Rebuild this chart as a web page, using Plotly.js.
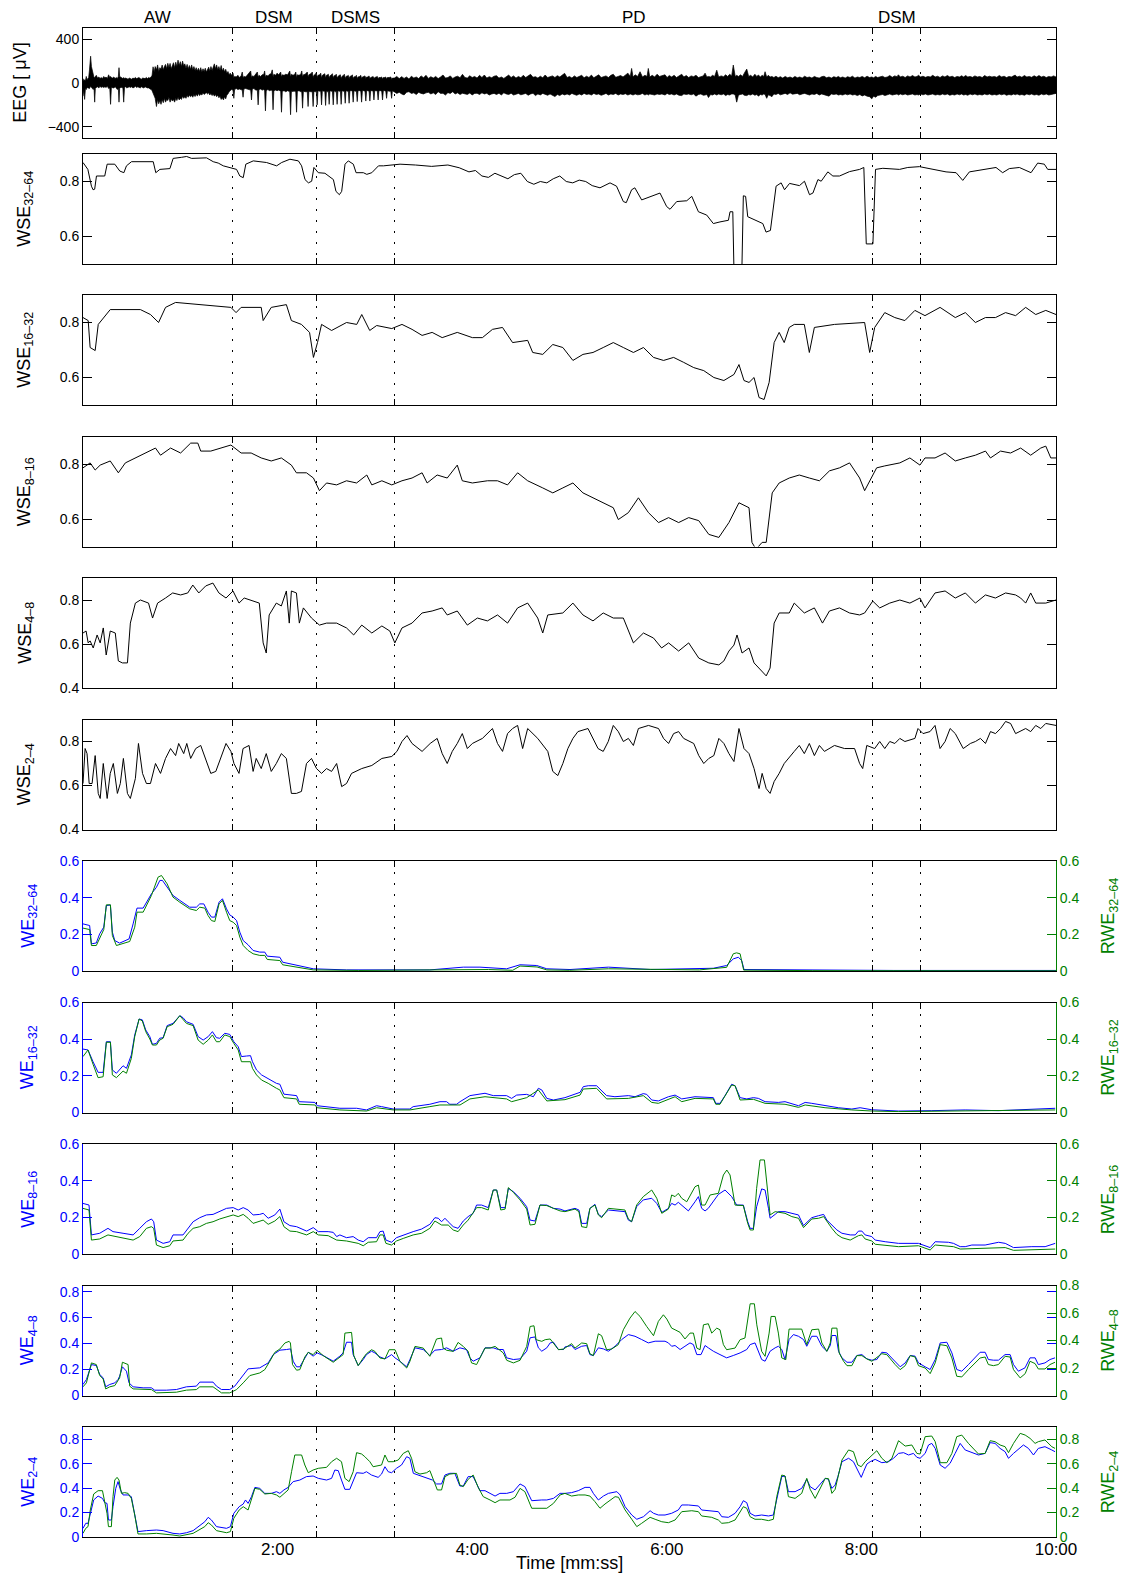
<!DOCTYPE html>
<html>
<head>
<meta charset="utf-8">
<script src="https://cdn.plot.ly/plotly-3.0.1.min.js"></script>
<style>html,body{margin:0;padding:0;background:#fff;}</style>
</head>
<body>
<div id="chart" style="width:1125px;height:1576px;"></div>
<script>
// ---------------- sleep-stage segmentation and time axis ----------------
const stageBounds = [0, 91.9, 144, 192.3, 486.8, 516.7, 600];   // seconds
const stageLabels = ['AW', 'DSM', 'DSMS', 'PD', 'DSM', ''];
const timeTickVals = [120, 240, 360, 480, 600];
const timeTickText = ['2:00', '4:00', '6:00', '8:00', '10:00'];

// ---------------- raw EEG, shown as a max/min envelope per short time bin [t, max, min] (µV) ----------------
const eegEnvelope = [
 [0,40,-120],[0.5,20,-60],[1,30,-150],[1.5,20,-50],[2,60,-60],[2.5,30,-40],[3,40,-40],[3.5,50,-45],[4,120,-50],[4.7,245,-30],
 [5.2,150,-40],[5.8,100,-50],[6.3,80,-60],[6.8,50,-45],[7.2,50,-175],[7.6,60,-50],[8.2,70,-40],[9,45,-35],[9.8,55,-45],[10.5,40,-30],
 [11.2,50,-40],[12,40,-35],[12.8,60,-40],[13.5,45,-35],[14.2,55,-40],[15,40,-30],[15.8,75,-50],[16.5,50,-45],[17,60,-195],[17.5,50,-40],
 [18.2,45,-40],[19,55,-45],[19.8,40,-35],[20.5,50,-45],[21.2,40,-60],[21.8,60,-50],[22.2,140,-175],[22.6,60,-50],[23.3,50,-40],[24,45,-40],
 [24.6,40,-45],[25.1,50,-175],[25.6,40,-40],[26.3,45,-35],[27,40,-45],[27.8,35,-40],[28.5,45,-35],[29.3,40,-40],[30,35,-35],[30.8,45,-45],
 [31.5,40,-40],[32.3,50,-30],[33,40,-40],[33.8,45,-35],[34.5,50,-40],[35.3,40,-45],[36,35,-35],[36.8,45,-40],[37.5,45,-45],[38.3,40,-35],
 [39,50,-40],[39.8,40,-45],[40.5,50,-45],[41.2,45,-50],[42,55,-60],[42.6,70,-70],
 [43.2,148,-80],[43.9,100,-120],[44.5,150,-140],[45.3,120,-215],[46,165,-150],[46.7,105,-190],[47.4,140,-160],[48.1,125,-195],[48.8,164,-150],
 [49.5,120,-180],[50.2,150,-140],[50.9,170,-175],[51.6,130,-150],[52.3,180,-160],[53,140,-130],[53.7,179,-175],[54.4,130,-145],[55.1,160,-165],
 [55.8,185,-150],[56.5,140,-175],[57.2,190,-140],[57.9,150,-160],[58.6,209,-130],[59.3,160,-155],[60,195,-140],[60.7,150,-150],[61.4,200,-120],
 [62.1,155,-140],[62.8,175,-125],[63.5,135,-140],[64.2,170,-115],[64.9,130,-130],[65.6,160,-110],[66.3,125,-125],[67,165,-115],[67.7,120,-130],
 [68.4,150,-105],[69.1,115,-124],[69.8,140,-100],[70.5,110,-120],[71.2,135,-95],[71.9,105,-115],[72.6,140,-100],[73.3,100,-110],[74,130,-90],
 [74.7,105,-105],[75.4,135,-95],[76.1,100,-90],[76.8,120,-100],[77.5,145,-90],[78.2,110,-110],[78.9,150,-95],[79.6,115,-115],[80.3,140,-100],
 [81,175,-120],[81.7,130,-105],[82.4,165,-125],[83.1,120,-110],[83.8,150,-135],[84.5,115,-120],[85.2,160,-150],[85.9,110,-135],[86.6,135,-155],
 [87.3,100,-125],[88,125,-145],[88.7,90,-110],[89.4,105,-100],[90.1,75,-80],[90.8,90,-70],
 [91.5,70,-60],[92.5,90,-65],[93,50,-140],[93.5,60,-60],[94.5,55,-50],[95.5,70,-60],[96.5,50,-55],[97.5,65,-60],[98.2,100,-65],[98.7,50,-130],
 [99.2,60,-55],[100.2,55,-50],[101.2,70,-60],[102.2,90,-60],[103.4,110,-65],[103.9,50,-155],[104.4,65,-55],[105.4,60,-50],[106.4,75,-65],
 [107.5,100,-65],[108,50,-200],[108.5,70,-60],[109.5,60,-55],[110.5,75,-65],[111.5,80,-60],[112,110,-70],[112.5,50,-255],[113,70,-70],
 [114,65,-60],[115,80,-70],[116,85,-65],[116.7,120,-70],[117.2,55,-245],[117.7,80,-70],[118.7,70,-65],[119.7,90,-70],[120.7,75,-65],
 [121.9,100,-75],[122.4,55,-267],[122.9,75,-75],[124,70,-70],[125,80,-80],[126.2,75,-70],[127.5,110,-80],[128,55,-290],[128.5,80,-80],
 [129.5,70,-75],[130.6,80,-75],[131.2,100,-80],[131.7,50,-267],[132.2,75,-75],[133.2,70,-70],[134.3,80,-80],[134.9,110,-80],[135.4,55,-230],
 [135.9,75,-75],[137,80,-80],[138.3,100,-80],[138.8,55,-215],[139.3,75,-75],[140.5,85,-80],[141.4,100,-80],[141.9,50,-215],[142.4,70,-75],
 [143.3,80,-80],[143.9,95,-75],[144.4,50,-200],[144.9,70,-70],[146,75,-75],[146.6,90,-75],[147.1,45,-200],[147.6,70,-70],[148.5,80,-75],
 [149.1,85,-75],[149.6,45,-205],[150.1,70,-75],[150.8,75,-80],[151.3,80,-75],[151.8,45,-195],[152.3,65,-70],[153.2,75,-75],[153.8,85,-75],
 [154.3,45,-200],[154.8,65,-70],[155.6,70,-80],[156.2,80,-75],[156.7,45,-195],[157.2,60,-70],[158.1,70,-75],[158.7,75,-75],[159.2,40,-195],
 [159.7,60,-70],[160.6,70,-75],[161.2,80,-75],[161.7,40,-185],[162.2,60,-70],[163.1,65,-75],[163.6,70,-75],[164.1,40,-185],[164.6,60,-70],
 [165.5,65,-70],[166.1,75,-75],[166.6,40,-175],[167.1,55,-70],[168,60,-75],[168.6,70,-75],[169.1,40,-170],[169.6,55,-70],[170.6,60,-70],
 [171.3,70,-75],[171.8,40,-175],[172.3,55,-70],[173.2,60,-70],[173.9,65,-75],[174.4,40,-165],[174.9,55,-70],[175.7,55,-70],[176.4,65,-75],
 [176.9,40,-165],[177.4,50,-70],[178.3,55,-70],[178.9,60,-75],[179.4,40,-155],[179.9,50,-70],[180.8,55,-70],[181.5,60,-75],[182,40,-155],
 [182.5,50,-70],[183.4,50,-70],[184.2,55,-75],[184.7,35,-155],[185.2,50,-70],[186.1,50,-70],[186.7,55,-75],[187.2,35,-140],[187.7,50,-70],
 [188.8,50,-75],[189.8,55,-75],[190.3,35,-140],[190.8,45,-70],[191.6,45,-75],
 [192,45,-80],[193.5,60,-95],[195,40,-85],[196.5,58,-100],[198,42,-109],[199.5,55,-85],[201,36,-79],[202.5,62,-95],[204,45,-90],[205.5,55,-105],
 [207,40,-85],[208.5,65,-95],[210,48,-100],[211.5,70,-90],[213,42,-85],[214.5,58,-100],[216,45,-90],[217.5,60,-105],[219,40,-79],[220.5,55,-95],
 [222,73,-94],[223.5,45,-110],[225,50,-88],[226.5,65,-95],[228,42,-79],[229.5,55,-100],[231,62,-90],[232.5,48,-105],[234,79,-94],[235.5,50,-100],
 [237,45,-104],[238.5,66,-92],[240,50,-109],[241.5,60,-95],[243,45,-94],[244.5,70,-105],[246,50,-90],[247.5,73,-100],[249,45,-94],[250.5,58,-110],
 [252,48,-100],[253.5,62,-95],[255,67,-105],[256.5,45,-94],[258,55,-109],[259.5,42,-90],[261,58,-100],[262.5,72,-105],[264,50,-94],[265.5,65,-110],
 [267,45,-103],[268.5,60,-95],[270,48,-108],[271.5,70,-100],[273,50,-95],[274.5,62,-112],[276,79,-100],[277.5,52,-94],[279,58,-115],[280.5,45,-100],
 [282,62,-109],[283.5,48,-95],[285,73,-105],[286.5,50,-112],[288,58,-100],[289.5,65,-110],[291,50,-124],[292.5,67,-105],[294,55,-115],[295.5,70,-100],
 [297,88,-109],[298.5,50,-100],[300,60,-110],[301.5,45,-95],[303,65,-105],[304.5,50,-112],[306,58,-100],[307.5,70,-110],[309,48,-95],[310.5,62,-105],
 [312,50,-100],[313.5,72,-110],[315,48,-95],[316.5,60,-105],[318,75,-100],[319.5,50,-112],[321,58,-105],[322.5,65,-95],[324,50,-110],[325.5,70,-100],
 [327,80,-105],[328.5,52,-95],[330,60,-110],[331.5,68,-100],[333,55,-105],[334.5,75,-98],[336,90,-110],[337.5,60,-100],[338.3,133,-105],[339.2,55,-110],
 [340.5,75,-100],[342,60,-108],[343.5,103,-105],[345,55,-95],[346.5,70,-110],[347.8,60,-100],[348.6,133,-110],[349.5,55,-100],[351,70,-105],[352.5,55,-110],
 [354,80,-100],[355.5,60,-105],[357,65,-100],[358.9,75,-110],[360.2,50,-95],[361.5,68,-105],[363,55,-100],[364.5,70,-110],[366,50,-100],[367.5,62,-112],
 [369.2,80,-115],[370.5,55,-100],[372,68,-105],[373.5,50,-100],[375,65,-108],[376.5,58,-100],[378,70,-120],[379.5,50,-105],[381,60,-100],[382.5,65,-112],
 [383.6,90,-110],[384.7,55,-105],[385.7,60,-133],[387,55,-105],[388.2,70,-110],[389.5,60,-100],[390.8,117,-110],[392,55,-100],[393.5,65,-108],[395,58,-100],
 [396.3,75,-115],[397.5,60,-105],[398.8,80,-110],[400,65,-100],[401,164,-100],[402.2,60,-110],[403.1,70,-175],[404.2,60,-110],[405.5,75,-105],[406.7,60,-100],
 [407.8,90,-112],[409.3,127,-115],[410.5,60,-105],[411.7,70,-110],[413,55,-100],[414.3,80,-112],[415.5,60,-105],[416.5,73,-120],[417.7,55,-105],[418.8,70,-110],
 [419.8,60,-100],[420.6,103,-105],[421.6,55,-140],[422.6,70,-108],[423.7,55,-115],[424.8,60,-125],[426,50,-100],[427.3,62,-105],[428.7,48,-95],[430,58,-108],
 [431.5,45,-100],[433,60,-95],[434.5,48,-105],[436,55,-90],[437.5,45,-102],[439,60,-100],[440.5,48,-95],[442,55,-108],[443.5,45,-100],[445,62,-95],
 [446.5,50,-105],[448,55,-110],[449.5,45,-100],[451,60,-105],[452.5,50,-95],[454,45,-110],[455.5,58,-100],[457,62,-105],[458.5,48,-112],[460,55,-120],
 [461.5,45,-100],[463,58,-105],[464.5,50,-100],[465.8,60,-110],[467,48,-105],[468.5,55,-110],[470,45,-100],[471.5,58,-108],[473,50,-100],[474.5,62,-110],
 [476,45,-105],[477.5,55,-115],[479,50,-105],[480.5,60,-118],[482,48,-110],[483.5,62,-120],[485,50,-125],[486.4,55,-145],[487.5,48,-120],[488.8,60,-130],
 [490,50,-115],[491.5,58,-110],[493,62,-105],[494.5,50,-115],[496,55,-110],[497.5,68,-100],[499,52,-110],[500.5,65,-105],[502,58,-100],[502.8,75,-110],
 [504,55,-100],[505.5,62,-108],[507,50,-100],[508.5,65,-110],[510,55,-105],[511.5,68,-100],[513,55,-110],[514.3,60,-105],[515.2,70,-110],[516.5,55,-100],
 [518,62,-108],[519.5,52,-100],[521,60,-110],[522.5,55,-105],[524,70,-100],[525.5,55,-110],[527,62,-105],[528.5,50,-110],[530,65,-100],[531.5,55,-108],
 [533,68,-100],[534.5,55,-112],[536,62,-105],[537.5,50,-110],[539,60,-100],[540.5,55,-108],[541.8,66,-100],[543,55,-110],[544.3,68,-105],[545.6,55,-112],
 [547,60,-100],[548.5,52,-108],[550,65,-100],[551.5,55,-110],[553,60,-105],[554.5,50,-110],[556,68,-100],[557.5,55,-108],[559,62,-100],[560.5,55,-110],
 [562,60,-105],[563.5,52,-110],[565,68,-100],[566.5,55,-108],[568,62,-100],[569.5,50,-112],[571,60,-105],[572.5,55,-110],[574,62,-100],[574.8,72,-108],
 [576,55,-100],[577.5,62,-110],[579,52,-105],[580.5,68,-112],[582,55,-100],[583.5,60,-108],[585,52,-100],[586.5,66,-110],[588,55,-105],[589.5,68,-112],
 [591,55,-100],[592.5,62,-108],[594,50,-100],[595.5,60,-110],[597,55,-105],[598.5,65,-100],[600,55,-95]
];

// ---------------- wavelet spectral entropy per band [t, value] ----------------
const wse3264 = [
 [0,0.869],[3,0.844],[5.2,0.783],[6.2,0.770],[7.2,0.772],[8.3,0.820],[13.4,0.820],[14.9,0.863],[19.6,0.863],[22.7,0.838],
 [25.2,0.832],[26.8,0.857],[29.9,0.872],[43.3,0.872],[44.9,0.832],[47.4,0.844],[53.6,0.847],[55.6,0.884],[60.8,0.888],[63.9,0.891],
 [67,0.884],[76.2,0.886],[80.3,0.872],[83.4,0.867],[86.5,0.857],[90.6,0.851],[94.7,0.844],[96.7,0.820],[98.8,0.814],[100.4,0.863],
 [105,0.875],[113.2,0.869],[119.4,0.857],[122.5,0.869],[127.6,0.881],[132.8,0.875],[134.8,0.857],[136.9,0.807],[139,0.795],[141,0.801],
 [142.4,0.851],[145.1,0.832],[149.2,0.830],[154.4,0.807],[156,0.764],[158.1,0.752],[159.5,0.764],[161.6,0.863],[163.6,0.875],[166.7,0.863],
 [168.4,0.832],[172.9,0.832],[175,0.826],[178.1,0.832],[182.2,0.857],[185.3,0.857],[195.5,0.863],[205,0.860],[215,0.855],[225,0.860],
 [232,0.850],[238,0.835],[242,0.840],[246,0.820],[250,0.815],[254,0.830],[258,0.820],[262,0.810],[266,0.825],[270,0.830],[274,0.800],
 [278,0.790],[282,0.800],[286,0.795],[290,0.810],[294,0.820],[298,0.800],[302,0.795],[306,0.805],[310,0.800],[314,0.785],
 [318.8,0.777],[325,0.795],[329,0.783],[333.2,0.727],[335,0.723],[338.3,0.770],[340.3,0.777],[344.5,0.733],[349.6,0.743],[355.8,0.758],
 [359.9,0.709],[362,0.699],[366.1,0.727],[372.3,0.730],[375.4,0.746],[379.5,0.690],[384.6,0.678],[388.7,0.647],[392.8,0.653],[398,0.659],
 [399,0.690],[400.7,0.690],[401.5,0.45],[406.2,0.45],[407.2,0.748],[408.6,0.746],[409.9,0.672],[415,0.657],[419.2,0.647],[421.2,0.616],
 [423.9,0.622],[427.4,0.783],[430.5,0.795],[432.6,0.770],[435.7,0.793],[441.8,0.785],[444.9,0.801],[448,0.752],[450.1,0.758],[453.2,0.807],
 [455.2,0.801],[459.3,0.835],[462.4,0.820],[466.5,0.820],[472.7,0.836],[478.9,0.844],[481.5,0.851],[483,0.573],[487.1,0.573],[488.7,0.844],
 [493.2,0.848],[503.5,0.844],[508.6,0.851],[515.8,0.854],[524,0.844],[532.2,0.835],[538.4,0.832],[542.5,0.804],[546.6,0.835],[554.8,0.844],
 [563,0.851],[567.1,0.832],[571.2,0.847],[577.4,0.851],[584.6,0.832],[588.7,0.867],[592.8,0.863],[594.9,0.844],[600,0.844]
];
const wse1632 = [
 [0,0.818],[3.2,0.807],[4.4,0.709],[7.5,0.698],[9.4,0.793],[16.8,0.847],[35.4,0.847],[41.6,0.829],[46.6,0.8],[50.9,0.855],
 [57.1,0.873],[91.2,0.855],[94.4,0.836],[97.5,0.855],[109.9,0.855],[111.1,0.807],[116.1,0.855],[125.4,0.865],[128.5,0.807],[134.7,0.793],
 [139.7,0.764],[142.1,0.673],[144.6,0.727],[147.1,0.793],[153.3,0.771],[162.5,0.8],[168.8,0.793],[171.9,0.829],[176.8,0.771],[181.1,0.789],
 [190.4,0.778],[196.7,0.793],[202.9,0.775],[209.1,0.753],[215.3,0.764],[221.5,0.745],[230.8,0.764],[240.1,0.745],[246.3,0.745],[252.5,0.775],
 [258.7,0.782],[264.9,0.727],[274.2,0.735],[277.3,0.691],[283.5,0.684],[289.7,0.72],[295.9,0.709],[302.1,0.662],[308.3,0.684],[314.5,0.691],
 [320.8,0.709],[327,0.727],[333.2,0.709],[339.4,0.691],[345.6,0.709],[351.8,0.673],[358,0.662],[364.2,0.673],[370.4,0.655],[376.6,0.636],
 [382.8,0.625],[389,0.6],[395.2,0.589],[401.4,0.611],[404.5,0.647],[407.6,0.589],[410.7,0.582],[413.8,0.6],[416.9,0.527],[420,0.52],
 [423.1,0.582],[426.2,0.727],[429.3,0.764],[432.4,0.727],[435.5,0.782],[438.6,0.793],[444.8,0.793],[447.9,0.691],[451,0.782],[463.4,0.793],
 [482,0.8],[485.1,0.691],[488.2,0.782],[494.4,0.836],[500.6,0.818],[506.8,0.807],[513,0.844],[519.2,0.825],[528.5,0.855],[537.9,0.818],
 [544.1,0.836],[550.3,0.8],[556.5,0.818],[562.7,0.818],[568.9,0.836],[575.1,0.825],[581.3,0.855],[587.5,0.829],[593.7,0.844],[600,0.829]
];
const wse816 = [
 [0,0.786],[4.4,0.804],[7.5,0.778],[10.6,0.796],[16.8,0.811],[21.8,0.768],[26.1,0.804],[32.3,0.822],[38.5,0.84],[44.7,0.858],
 [47.8,0.832],[54,0.858],[60.2,0.84],[66.4,0.876],[70.8,0.876],[72.6,0.847],[78.8,0.847],[85,0.858],[91.2,0.869],[97.5,0.84],
 [103.7,0.84],[109.9,0.822],[116.1,0.811],[122.3,0.822],[128.5,0.796],[131.6,0.768],[137.8,0.768],[142.1,0.749],[145.8,0.703],[150.2,0.731],
 [156.4,0.724],[162.5,0.739],[168.7,0.731],[175,0.76],[178.1,0.724],[184.3,0.739],[190.4,0.724],[196.7,0.739],[202.9,0.749],[209.1,0.768],
 [212.2,0.731],[218.4,0.76],[224.6,0.749],[230.8,0.796],[233.9,0.739],[240.1,0.731],[249.4,0.739],[255.6,0.739],[261.8,0.724],[268,0.768],
 [274.2,0.739],[283.5,0.713],[289.7,0.695],[295.9,0.713],[302.1,0.731],[308.3,0.695],[314.5,0.677],[320.8,0.659],[327,0.641],[330.1,0.598],
 [336.3,0.623],[342.5,0.677],[348.7,0.623],[354.9,0.587],[361.1,0.605],[367.3,0.587],[373.5,0.605],[379.7,0.594],[385.9,0.544],[392.1,0.533],
 [398.3,0.587],[404.5,0.659],[410.7,0.641],[412.5,0.515],[415,0.49],[418.8,0.515],[421.3,0.515],[425,0.695],[429.3,0.731],[435.5,0.749],
 [441.7,0.76],[447.9,0.749],[454.1,0.739],[460.3,0.775],[466.5,0.786],[472.7,0.804],[478.9,0.749],[482,0.703],[485.1,0.739],[489.4,0.786],
 [494.4,0.793],[503.7,0.804],[509.9,0.822],[516.1,0.796],[519.2,0.822],[525.4,0.822],[531.6,0.84],[537.9,0.811],[544.1,0.822],[550.3,0.832],
 [556.5,0.847],[559.6,0.822],[565.8,0.847],[572,0.84],[578.2,0.858],[584.4,0.832],[590.6,0.858],[593.7,0.865],[596.8,0.822],[600,0.822]
];
const wse48 = [
 [0,0.65],[1.9,0.659],[3.2,0.605],[4.4,0.614],[6.3,0.582],[8.7,0.641],[10.6,0.605],[12.5,0.673],[14.3,0.55],[16.8,0.659],
 [19.9,0.65],[21.8,0.523],[24.3,0.514],[27.4,0.514],[29.2,0.695],[32.3,0.786],[35.4,0.8],[40.4,0.786],[42.9,0.718],[46,0.786],
 [50.9,0.809],[55.3,0.832],[60.2,0.823],[64.6,0.832],[67.7,0.868],[71.4,0.832],[75.7,0.864],[80.1,0.877],[83.8,0.832],[88.2,0.809],
 [92.5,0.841],[96.2,0.786],[99.4,0.809],[103.7,0.8],[108.7,0.786],[111.1,0.605],[113,0.559],[114.8,0.732],[119.2,0.786],[122.3,0.773],
 [125.4,0.841],[127.2,0.695],[128.5,0.841],[131.6,0.832],[133.4,0.695],[135.9,0.764],[140.9,0.718],[145.8,0.686],[150.2,0.695],[156.4,0.695],
 [162.5,0.673],[166.9,0.641],[171.9,0.686],[178.1,0.65],[184.3,0.682],[189.2,0.659],[192.3,0.605],[196.7,0.673],[202.9,0.695],[209.1,0.741],
 [215.3,0.75],[221.5,0.764],[224.6,0.732],[230.8,0.75],[237,0.686],[243.2,0.718],[249.4,0.705],[255.6,0.732],[261.8,0.695],[268,0.764],
 [274.2,0.786],[280.4,0.718],[283.5,0.65],[286.6,0.732],[295.9,0.741],[302.1,0.786],[308.3,0.732],[314.5,0.705],[320.8,0.741],[327,0.718],
 [333.2,0.718],[339.4,0.605],[345.6,0.65],[351.8,0.627],[356.8,0.582],[361.1,0.605],[367.3,0.568],[373.5,0.605],[379.7,0.536],[385.9,0.514],
 [392.1,0.505],[395.2,0.523],[398.3,0.568],[401.4,0.595],[403.3,0.641],[406.4,0.559],[410.7,0.582],[413.8,0.514],[418.8,0.477],[421.3,0.455],
 [423.7,0.491],[426.2,0.695],[429.3,0.741],[435.5,0.741],[438.6,0.786],[441.7,0.764],[444.8,0.741],[451,0.764],[456,0.695],[460.3,0.75],
 [466.5,0.764],[472.7,0.741],[478.9,0.732],[482,0.741],[487,0.795],[491.3,0.764],[497.5,0.786],[503.7,0.8],[509.9,0.786],[516.1,0.809],
 [519.2,0.764],[525.4,0.832],[531.6,0.841],[537.9,0.809],[544.1,0.832],[550.3,0.786],[556.5,0.823],[562.7,0.809],[568.9,0.832],[575.1,0.823],
 [578.2,0.809],[581.3,0.786],[584.4,0.832],[587.5,0.786],[593.7,0.786],[600,0.8]
];
const wse24 = [
 [0,0.609],[1.3,0.768],[2.5,0.745],[3.8,0.609],[5.6,0.609],[7.5,0.736],[9.4,0.564],[10.6,0.541],[12.5,0.7],[14.9,0.541],
 [16.8,0.655],[18.7,0.7],[21.2,0.564],[23,0.609],[24.9,0.723],[27.4,0.564],[29.2,0.541],[32.3,0.632],[34.2,0.791],[36.7,0.655],
 [39.1,0.609],[41.6,0.609],[44.7,0.7],[47.8,0.655],[50.9,0.723],[54,0.768],[57.1,0.736],[59,0.791],[62.1,0.745],[64,0.791],
 [66.4,0.723],[69.5,0.768],[72.6,0.782],[75.7,0.723],[78.8,0.655],[81.9,0.664],[85,0.723],[88.2,0.791],[91.2,0.755],[93.1,0.7],
 [96.2,0.655],[98.7,0.768],[102.4,0.782],[104.9,0.664],[106.8,0.723],[109.9,0.677],[113,0.745],[116.1,0.664],[119.2,0.7],[122.3,0.745],
 [125.4,0.723],[128.5,0.564],[131.6,0.564],[134.7,0.573],[137.8,0.7],[140.9,0.723],[144,0.677],[147.1,0.655],[150.2,0.677],[153.3,0.664],
 [156.4,0.7],[159.5,0.595],[162.5,0.609],[165.6,0.655],[171.9,0.677],[178.1,0.691],[184.3,0.723],[190.4,0.732],[193.6,0.755],[196.7,0.8],
 [199.8,0.827],[202.9,0.791],[209.1,0.755],[214.1,0.791],[218.4,0.814],[221.5,0.745],[224.6,0.7],[227.7,0.755],[230.8,0.791],[233.9,0.836],
 [237,0.768],[240.1,0.791],[246.3,0.814],[252.5,0.859],[255.6,0.791],[258.7,0.755],[261.8,0.836],[264.9,0.859],[268,0.873],[271.1,0.768],
 [274.2,0.859],[280.4,0.814],[286.6,0.755],[289.7,0.664],[292.8,0.645],[295.9,0.7],[299,0.768],[302.1,0.814],[305.2,0.845],[311.4,0.859],
 [317.6,0.768],[320.8,0.755],[323.9,0.8],[327,0.873],[330.1,0.845],[333.2,0.8],[336.3,0.814],[339.4,0.782],[342.5,0.859],[348.7,0.873],
 [354.9,0.859],[358,0.814],[361.1,0.791],[364.2,0.836],[367.3,0.845],[370.4,0.814],[376.6,0.791],[379.7,0.736],[382.8,0.7],[385.9,0.723],
 [389,0.736],[392.1,0.814],[395.2,0.791],[398.3,0.745],[401.4,0.709],[404.5,0.859],[407.6,0.768],[410.7,0.745],[413.8,0.677],[416.9,0.586],
 [418.8,0.655],[421.3,0.586],[423.7,0.564],[426.2,0.618],[429.3,0.655],[432.4,0.7],[438.6,0.755],[441.7,0.782],[444.8,0.745],[447.9,0.791],
 [451,0.736],[454.1,0.782],[457.2,0.755],[463.4,0.782],[469.6,0.768],[475.8,0.768],[478.9,0.7],[480.8,0.677],[483.3,0.782],[488.2,0.768],
 [491.3,0.8],[494.4,0.768],[497.5,0.8],[500.6,0.791],[503.7,0.814],[506.8,0.8],[513,0.814],[514.9,0.859],[518,0.836],[522.3,0.845],
 [525.4,0.873],[528.5,0.768],[531.6,0.8],[534.7,0.859],[537.9,0.836],[542.8,0.768],[547.2,0.791],[550.3,0.8],[553.4,0.814],[556.5,0.791],
 [559.6,0.845],[562.7,0.836],[565.8,0.859],[568.9,0.891],[572,0.882],[575.1,0.836],[581.3,0.859],[584.4,0.845],[587.5,0.873],[590.6,0.859],
 [593.7,0.882],[600,0.873]
];

// ---------------- wavelet energy (WE, left axis) and relative wavelet energy (RWE, right axis) ----------------
const we3264 = [
 [0,0.257],[4.1,0.248],[5.2,0.148],[8.2,0.153],[10.3,0.203],[12.8,0.239],[14.4,0.357],[16.9,0.36],[18.1,0.212],[19.6,0.166],
 [22.6,0.152],[25.7,0.166],[28.4,0.175],[30.9,0.257],[33.3,0.343],[37.1,0.343],[39.1,0.375],[42.2,0.421],[45.3,0.457],[47.4,0.494],
 [49,0.494],[51.9,0.457],[55.5,0.412],[59.7,0.385],[65.8,0.348],[69.9,0.348],[72,0.366],[74.5,0.366],[77.1,0.321],[79.2,0.294],
 [81.3,0.294],[83.9,0.375],[86,0.394],[88.5,0.339],[90.5,0.306],[92.6,0.294],[94.7,0.275],[96.7,0.212],[98.8,0.166],[101.8,0.143],
 [104.9,0.112],[109,0.103],[112.1,0.103],[113.6,0.081],[121.4,0.075],[123.1,0.048],[131.7,0.03],[142,0.012],[162.5,0.006],[193,0.005],
 [213.9,0.006],[234.5,0.021],[244.8,0.021],[261.2,0.012],[269.5,0.034],[279.8,0.03],[286,0.012],[300.3,0.008],[324,0.021],[350,0.008],
 [388.7,0.015],[396.9,0.03],[401,0.066],[404.1,0.075],[406.2,0.057],[407.6,0.008],[450,0.004],[500,0.003],[600,0.003]
];
const rwe3264 = [
 [0,0.234],[4.1,0.226],[5.2,0.139],[8.2,0.139],[12.8,0.226],[14.4,0.361],[16.9,0.361],[18.1,0.194],[20.6,0.139],[24.7,0.148],
 [28.8,0.161],[31.9,0.239],[33.3,0.321],[37.1,0.321],[42.2,0.412],[46.3,0.512],[48.4,0.521],[51.9,0.475],[55.5,0.403],[59.7,0.375],
 [65.8,0.339],[69.9,0.33],[72,0.348],[75.1,0.343],[77.1,0.303],[79.2,0.275],[81.3,0.27],[83.9,0.366],[86,0.385],[88.5,0.321],
 [90.5,0.275],[92.6,0.266],[94.7,0.248],[96.7,0.185],[98.8,0.139],[101.8,0.112],[104.9,0.094],[109,0.085],[112.1,0.085],[113.6,0.063],
 [121.4,0.057],[123.1,0.034],[131.7,0.021],[142,0.006],[170,0.003],[230,0.006],[250,0.008],[265,0.004],[269.5,0.027],[280,0.022],
 [286,0.006],[300,0.004],[324,0.012],[380,0.006],[396.9,0.02],[401,0.094],[403,0.099],[405.2,0.094],[407.4,0.005],[450,0.002],[600,0.001]
];
const we1632 = [
 [0,0.346],[3.1,0.341],[6.2,0.277],[9.3,0.219],[12.4,0.219],[14.4,0.386],[16.9,0.386],[18.1,0.232],[20.6,0.214],[22.6,0.232],
 [24.7,0.255],[26.8,0.241],[29.8,0.314],[31.9,0.423],[34.6,0.51],[36.6,0.505],[38.7,0.45],[41.2,0.414],[42.8,0.372],[45.3,0.377],
 [47.3,0.405],[49.4,0.408],[51.9,0.474],[55.5,0.486],[59.7,0.528],[61.7,0.517],[63.8,0.495],[67.9,0.481],[71,0.414],[74.1,0.395],
 [77.2,0.414],[79.8,0.441],[82.3,0.408],[84.3,0.405],[87.4,0.432],[90.5,0.426],[93,0.386],[95.7,0.359],[97.7,0.305],[100.8,0.308],
 [103.3,0.31],[104.5,0.277],[107,0.232],[110.1,0.205],[114.2,0.183],[119.3,0.159],[121.4,0.154],[123.9,0.1],[131.7,0.092],[133.3,0.059],
 [143,0.055],[144.4,0.037],[158.4,0.023],[168.7,0.023],[174.8,0.014],[181,0.037],[184.1,0.032],[191.3,0.019],[201.6,0.019],[203.6,0.032],
 [213.9,0.045],[220.1,0.059],[224.2,0.059],[226.2,0.045],[230.4,0.045],[232.5,0.059],[238.6,0.092],[247.9,0.105],[253,0.092],[261.2,0.092],
 [264.3,0.077],[267.4,0.095],[273.6,0.099],[277.7,0.086],[280.8,0.132],[282.9,0.123],[286,0.077],[290.1,0.068],[297.2,0.081],[301.3,0.095],
 [306.5,0.11],[308.5,0.141],[311.6,0.146],[316.7,0.146],[319.8,0.117],[322.9,0.092],[328,0.086],[336.3,0.092],[340.4,0.086],[345.5,0.103],
 [347.6,0.099],[350.7,0.068],[354.8,0.063],[361,0.086],[365.1,0.095],[369.2,0.074],[377.4,0.086],[385.6,0.081],[388.7,0.081],[390.2,0.05],
 [392.8,0.05],[395.9,0.092],[400,0.154],[402.1,0.146],[405.2,0.081],[409.3,0.074],[413.4,0.081],[416.5,0.077],[420.6,0.059],[428.8,0.055],
 [432.9,0.059],[441.2,0.037],[445.3,0.055],[449.4,0.05],[457.6,0.037],[465.8,0.026],[474.1,0.019],[479.2,0.026],[486.4,0.015],[502.8,0.008],
 [523.4,0.01],[544,0.014],[564.6,0.01],[585.1,0.019],[599.5,0.023]
];
const rwe1632 = [
 [0,0.305],[3.1,0.341],[6.2,0.263],[9.3,0.19],[12.4,0.195],[14.4,0.383],[16.9,0.383],[18.1,0.205],[20.6,0.19],[22.6,0.205],
 [24.7,0.226],[26.8,0.214],[29.8,0.295],[31.9,0.414],[34.6,0.51],[36.6,0.499],[38.7,0.441],[41.2,0.401],[42.8,0.368],[45.3,0.368],
 [47.3,0.395],[49.4,0.405],[51.9,0.468],[55.5,0.481],[59.7,0.528],[63.8,0.486],[67.9,0.474],[71,0.395],[74.1,0.372],[77.2,0.395],
 [79.8,0.423],[82.3,0.386],[84.3,0.386],[87.4,0.423],[90.5,0.414],[93,0.377],[95.7,0.341],[97.7,0.277],[103.3,0.277],[104.5,0.241],
 [107,0.205],[110.1,0.177],[114.2,0.159],[119.3,0.132],[121.4,0.123],[123.9,0.081],[131.7,0.074],[133.3,0.045],[143,0.041],[144.4,0.026],
 [158.4,0.014],[174.8,0.008],[181,0.026],[191.3,0.014],[201.6,0.014],[213.9,0.032],[220.1,0.041],[232.5,0.041],[238.6,0.074],[247.9,0.086],
 [261.2,0.074],[264.3,0.059],[273.6,0.081],[280.8,0.123],[286,0.063],[297.2,0.07],[306.5,0.095],[308.5,0.128],[316.7,0.132],[322.9,0.074],
 [336.3,0.077],[345.5,0.092],[350.7,0.055],[354.8,0.05],[365.1,0.086],[369.2,0.059],[377.4,0.077],[388.7,0.074],[390.2,0.045],[392.8,0.045],
 [400,0.15],[402.1,0.146],[405.2,0.068],[413.4,0.072],[420.6,0.05],[432.9,0.045],[441.2,0.028],[445.3,0.041],[457.6,0.026],[474.1,0.014],
 [486.4,0.008],[502.8,0.005],[599.5,0.014]
];
const we816 = [
 [0,0.276],[3.7,0.267],[5.2,0.104],[10.3,0.113],[15.4,0.14],[18.5,0.122],[24.7,0.113],[30.9,0.104],[35,0.14],[39.1,0.176],
 [42.2,0.191],[43.6,0.176],[45.3,0.076],[49.4,0.058],[53.5,0.067],[55.5,0.104],[61.7,0.104],[64.8,0.14],[67.9,0.176],[72,0.198],
 [76.1,0.213],[80.2,0.216],[84.3,0.231],[88.5,0.249],[92.6,0.253],[95.7,0.24],[98.8,0.253],[101.8,0.24],[104.9,0.213],[109,0.216],
 [111.1,0.222],[114.2,0.195],[118.3,0.213],[121.4,0.245],[123.9,0.176],[127.6,0.155],[131.7,0.149],[137.9,0.125],[142,0.144],[145.1,0.122],
 [151.2,0.122],[154.3,0.118],[156.4,0.095],[158.4,0.104],[162.5,0.089],[166.6,0.095],[169.7,0.076],[172.8,0.067],[175.9,0.089],[181,0.089],
 [183.1,0.122],[185.1,0.125],[186.8,0.076],[190.3,0.064],[193.3,0.089],[197.5,0.104],[203.6,0.122],[208.8,0.136],[213.9,0.162],[217,0.198],
 [219.1,0.195],[221.1,0.176],[223.2,0.195],[225.2,0.176],[228.3,0.149],[231.3,0.14],[234.5,0.18],[237.5,0.204],[240.6,0.222],[242.7,0.267],
 [245.8,0.267],[249.9,0.253],[253,0.349],[255.1,0.349],[257.6,0.253],[260.3,0.253],[262.3,0.358],[265.4,0.34],[269.5,0.304],[273.6,0.258],
 [275.7,0.185],[278.7,0.18],[281.8,0.267],[286,0.267],[290.1,0.249],[294.2,0.245],[297.2,0.235],[303.4,0.249],[305.8,0.24],[307.5,0.167],
 [310.6,0.167],[312.6,0.249],[315.7,0.271],[317.8,0.216],[319.8,0.204],[324,0.24],[328.1,0.235],[334.2,0.231],[336.3,0.185],[338.3,0.176],
 [341.4,0.258],[345.5,0.295],[350.7,0.304],[353.8,0.276],[356.9,0.227],[361,0.249],[363,0.276],[365.1,0.267],[367.1,0.282],[369.2,0.267],
 [373.3,0.235],[377.4,0.285],[379.5,0.313],[381.5,0.249],[383.6,0.235],[385.6,0.249],[387.7,0.276],[391.8,0.325],[395.9,0.349],[400,0.313],
 [403.1,0.267],[407.2,0.267],[409.9,0.176],[411.4,0.14],[413.4,0.14],[415.4,0.258],[418.5,0.355],[420.6,0.349],[422.7,0.249],[423.7,0.195],
 [426.8,0.216],[428.8,0.231],[432.9,0.231],[437.1,0.222],[441.2,0.213],[444.3,0.155],[449.4,0.198],[453.6,0.209],[456.7,0.216],[458.7,0.185],
 [461.8,0.158],[464.9,0.131],[468,0.113],[473.1,0.104],[476.2,0.104],[478.2,0.125],[480.3,0.125],[482.3,0.104],[486.4,0.095],[488.5,0.076],
 [494.7,0.067],[502.9,0.058],[515.2,0.058],[519.3,0.045],[522.4,0.035],[525.5,0.067],[533.7,0.064],[536.8,0.058],[540.9,0.04],[544,0.04],
 [548.1,0.049],[556.3,0.049],[564.6,0.064],[568.7,0.058],[573.8,0.035],[585.1,0.04],[593.3,0.04],[599.5,0.058]
];
const rwe816 = [
 [0,0.249],[3.7,0.24],[5.2,0.076],[10.3,0.082],[15.4,0.104],[24.7,0.085],[30.9,0.076],[35,0.095],[39.1,0.14],[42.2,0.149],
 [43.6,0.14],[45.3,0.049],[49.4,0.035],[53.5,0.045],[55.5,0.071],[61.7,0.076],[64.8,0.113],[67.9,0.14],[72,0.149],[76.1,0.167],
 [80.2,0.176],[84.3,0.191],[88.5,0.204],[92.6,0.213],[95.7,0.204],[98.8,0.216],[101.8,0.195],[104.9,0.167],[111.1,0.185],[114.2,0.162],
 [118.3,0.18],[121.4,0.204],[123.9,0.149],[127.6,0.125],[131.7,0.122],[137.9,0.104],[142,0.122],[145.1,0.104],[151.2,0.1],[156.4,0.076],
 [162.5,0.071],[169.7,0.058],[172.8,0.045],[175.9,0.064],[181,0.067],[183.1,0.104],[185.1,0.104],[186.8,0.058],[190.3,0.049],[193.3,0.071],
 [197.5,0.085],[203.6,0.104],[208.8,0.113],[213.9,0.14],[217,0.18],[221.1,0.158],[225.2,0.158],[228.3,0.131],[231.3,0.122],[234.5,0.158],
 [237.5,0.185],[242.7,0.253],[245.8,0.253],[249.9,0.24],[253,0.349],[255.1,0.349],[257.6,0.24],[260.3,0.245],[262.3,0.362],[265.4,0.336],
 [269.5,0.295],[273.6,0.245],[275.7,0.158],[278.7,0.162],[281.8,0.267],[286,0.264],[290.1,0.249],[294.2,0.235],[297.2,0.231],[303.4,0.245],
 [305.8,0.231],[307.5,0.149],[310.6,0.144],[312.6,0.249],[315.7,0.267],[317.8,0.213],[319.8,0.198],[324,0.249],[334.2,0.24],[336.3,0.191],
 [338.3,0.176],[341.4,0.267],[345.5,0.313],[350.7,0.349],[353.8,0.304],[356.9,0.222],[361,0.245],[363,0.322],[365.1,0.313],[367.1,0.331],
 [369.2,0.304],[372.3,0.285],[377.4,0.367],[379.5,0.376],[381.5,0.267],[383.6,0.267],[386.7,0.322],[391.8,0.331],[394.9,0.431],[397,0.458],
 [399,0.431],[402.1,0.267],[407.2,0.264],[409.9,0.167],[411.4,0.131],[413.4,0.131],[415.4,0.358],[417.5,0.513],[420.2,0.513],[421.6,0.376],
 [423.7,0.213],[426.8,0.231],[432.9,0.222],[437.1,0.204],[441.2,0.195],[444.3,0.144],[449.4,0.191],[453.6,0.195],[456.7,0.204],[461.8,0.14],
 [464.9,0.107],[468,0.089],[473.1,0.076],[478.2,0.1],[480.3,0.104],[482.3,0.082],[486.4,0.071],[488.5,0.053],[502.9,0.04],[515.2,0.045],
 [519.3,0.031],[522.4,0.022],[525.5,0.049],[536.8,0.04],[540.9,0.027],[556.3,0.031],[568.7,0.035],[573.8,0.02],[599.5,0.027]
];
const we48 = [
 [0,0.085],[2.1,0.123],[5.2,0.238],[8.2,0.231],[10.3,0.162],[12.4,0.136],[14,0.067],[16.5,0.085],[19.6,0.097],[21.6,0.123],
 [22.6,0.149],[24.3,0.221],[26.8,0.187],[28.4,0.097],[30.9,0.067],[37.1,0.059],[42.2,0.059],[44.2,0.041],[51.4,0.041],[57.6,0.046],
 [63.8,0.067],[69.9,0.072],[72,0.103],[80.2,0.103],[82.3,0.072],[85.4,0.046],[90.5,0.046],[93.6,0.072],[96.7,0.123],[101.8,0.205],
 [109,0.213],[114.2,0.251],[117.3,0.315],[121.4,0.349],[125.5,0.354],[128,0.359],[129.6,0.264],[131.7,0.221],[133.7,0.221],[136.8,0.29],
 [138.9,0.333],[141.9,0.303],[144.4,0.328],[148.1,0.308],[154.3,0.264],[158.4,0.303],[160.4,0.328],[162.5,0.41],[165.6,0.41],[166.6,0.315],
 [169.7,0.231],[172.8,0.277],[174.8,0.315],[177.9,0.341],[180,0.328],[183.1,0.297],[186.2,0.282],[190.3,0.315],[192.4,0.29],[195.4,0.264],
 [199.6,0.221],[201.6,0.277],[204.7,0.367],[209.8,0.354],[213.9,0.308],[217,0.349],[221.1,0.354],[224.2,0.367],[228.3,0.341],[232.4,0.367],
 [236.5,0.354],[238.6,0.29],[240.6,0.264],[244.8,0.29],[247.9,0.367],[253,0.367],[256.1,0.354],[259.2,0.354],[261.2,0.29],[265.4,0.277],
 [269.5,0.282],[273.6,0.341],[275.7,0.444],[278.7,0.451],[280.8,0.367],[282.9,0.341],[286,0.367],[288.1,0.405],[290.1,0.41],[293.2,0.354],
 [296.3,0.354],[297.2,0.374],[301.3,0.385],[303.4,0.354],[307.5,0.379],[310.6,0.385],[312.6,0.315],[314.7,0.308],[317.8,0.367],[320.9,0.359],
 [324,0.341],[328.1,0.379],[332.2,0.431],[336.3,0.469],[340.4,0.456],[344.5,0.431],[348.6,0.405],[352.8,0.418],[358.9,0.418],[361,0.405],
 [363,0.379],[365.1,0.385],[368.2,0.354],[371.2,0.379],[374.3,0.405],[376.4,0.392],[378.5,0.315],[381.1,0.315],[383.6,0.385],[385.6,0.367],
 [388.7,0.341],[392.8,0.315],[396.9,0.29],[401,0.308],[405.2,0.328],[409.3,0.354],[411.4,0.392],[414.4,0.405],[416.5,0.341],[418.5,0.277],
 [420.6,0.264],[423.7,0.341],[426.8,0.367],[428.8,0.379],[430.9,0.354],[432.9,0.277],[435.4,0.431],[438.1,0.469],[441.2,0.456],[444.3,0.431],
 [446.3,0.379],[449.4,0.456],[452.5,0.456],[455.6,0.379],[458.7,0.341],[460.8,0.385],[461.8,0.462],[464.3,0.462],[465.9,0.341],[468,0.29],
 [471.1,0.256],[474.1,0.256],[477.2,0.308],[480.3,0.315],[483.4,0.282],[486.4,0.272],[489.5,0.277],[492.6,0.333],[495.7,0.328],[499.8,0.277],
 [503.9,0.221],[507,0.251],[510.1,0.308],[513.1,0.303],[515.2,0.251],[519.3,0.221],[522.4,0.2],[525.5,0.277],[528.6,0.405],[532.7,0.41],
 [535.8,0.328],[538.8,0.2],[541.9,0.187],[546,0.238],[549.1,0.277],[553.2,0.333],[556.3,0.333],[558.3,0.277],[561.4,0.272],[564.5,0.272],
 [568.6,0.315],[571.7,0.315],[573.8,0.238],[576.8,0.187],[580.9,0.213],[584,0.29],[587.1,0.29],[589.1,0.238],[593.2,0.251],[596.3,0.277],
 [599.4,0.29]
];
const rwe48 = [
 [0,0.063],[2.1,0.092],[5.2,0.237],[8.2,0.225],[10.3,0.145],[12.4,0.121],[14,0.048],[16.5,0.063],[19.6,0.072],[21.6,0.104],
 [22.6,0.128],[24.3,0.242],[27.8,0.225],[28.8,0.068],[30.9,0.048],[42.2,0.043],[45.3,0.019],[57.6,0.024],[63.8,0.039],[69.9,0.043],
 [72,0.063],[80.2,0.063],[82.3,0.043],[85.4,0.019],[90.5,0.019],[94.7,0.043],[98.8,0.092],[102.9,0.145],[109,0.164],[112.1,0.188],
 [115.2,0.249],[118.3,0.314],[121.4,0.338],[124.5,0.382],[127.1,0.394],[127.9,0.382],[129.2,0.225],[131.7,0.184],[133.7,0.188],[136.8,0.28],
 [138.9,0.314],[141.9,0.297],[144.4,0.329],[148.1,0.29],[154.3,0.242],[158.4,0.28],[160.4,0.297],[161.5,0.454],[165.6,0.459],[167,0.29],
 [169.7,0.217],[172.8,0.273],[174.8,0.304],[177.9,0.333],[180,0.321],[183.1,0.273],[186.2,0.266],[188.8,0.333],[192.4,0.333],[195.4,0.249],
 [199.6,0.2],[201.6,0.249],[204.7,0.357],[209.8,0.345],[213.9,0.285],[218,0.411],[221.1,0.418],[222.1,0.345],[224.2,0.329],[228.3,0.321],
 [231.3,0.386],[234.5,0.357],[237.5,0.321],[239.6,0.237],[242.7,0.225],[245.8,0.297],[247.9,0.345],[251,0.345],[254.1,0.357],[259.2,0.309],
 [261.3,0.256],[265.4,0.237],[269.5,0.256],[273.6,0.357],[275.7,0.502],[278.1,0.507],[279.4,0.406],[282.9,0.394],[285,0.406],[288.1,0.411],
 [290.1,0.382],[293.2,0.333],[296.3,0.338],[297.2,0.345],[301.3,0.377],[303.4,0.345],[307.5,0.382],[310.6,0.377],[312.6,0.304],[314.7,0.29],
 [317.8,0.449],[319.8,0.435],[322.9,0.333],[326,0.338],[330.1,0.37],[333.2,0.478],[337.3,0.563],[340.4,0.611],[343.5,0.575],[347.6,0.502],
 [351.8,0.435],[354.8,0.539],[357.9,0.587],[360,0.556],[363,0.49],[365.1,0.478],[368.2,0.459],[371.2,0.411],[374.3,0.454],[376.4,0.454],
 [378.5,0.345],[380.5,0.333],[382.6,0.514],[385.6,0.522],[387.7,0.454],[390.8,0.49],[392.8,0.478],[394.9,0.37],[396.9,0.333],[402.1,0.345],
 [405.2,0.406],[408.2,0.418],[411.4,0.667],[414,0.667],[415.5,0.514],[418.5,0.321],[420.6,0.285],[423.1,0.454],[424.3,0.575],[426.8,0.575],
 [428.8,0.454],[430.9,0.273],[433.4,0.261],[435.4,0.483],[439.1,0.483],[441.2,0.478],[443.2,0.483],[446.3,0.37],[449.4,0.478],[453.6,0.483],
 [455.6,0.382],[458.7,0.321],[460.8,0.382],[461.8,0.49],[464.9,0.49],[466.3,0.309],[469,0.249],[471.1,0.217],[474.1,0.217],[477.2,0.29],
 [480.3,0.29],[483.4,0.266],[486.4,0.249],[492.6,0.304],[495.7,0.297],[500.8,0.225],[503.9,0.188],[507,0.217],[510.1,0.29],[513.1,0.28],
 [515.2,0.217],[519.3,0.2],[522.4,0.159],[525.5,0.237],[528.6,0.37],[532.7,0.362],[535.8,0.273],[538.8,0.14],[541.9,0.135],[546,0.188],
 [549.1,0.225],[553.2,0.273],[556.3,0.28],[558.3,0.225],[561.4,0.217],[564.5,0.225],[568.6,0.285],[571.7,0.28],[573.8,0.188],[577.9,0.128],
 [581,0.159],[584,0.249],[587.1,0.232],[589.1,0.193],[593.2,0.193],[596.3,0.225],[599.4,0.242]
];
const we24 = [
 [0,0.071],[1.7,0.112],[3.1,0.112],[4.5,0.194],[6.6,0.303],[9.3,0.335],[12,0.316],[13.4,0.281],[14.8,0.275],[15.7,0.139],
 [17.5,0.139],[18.5,0.248],[20.2,0.398],[21.6,0.453],[23.1,0.385],[24.7,0.344],[27.8,0.344],[29.8,0.33],[31.9,0.194],[33.9,0.044],
 [39.1,0.052],[45.3,0.057],[49.4,0.052],[55.5,0.03],[59.7,0.025],[63.8,0.035],[67.9,0.052],[72,0.09],[75.1,0.125],[77.2,0.161],
 [79.2,0.139],[82.3,0.085],[85.4,0.079],[88.5,0.071],[90.9,0.085],[93,0.194],[96.3,0.248],[98.8,0.27],[100.2,0.303],[101.8,0.275],
 [103.9,0.33],[106,0.406],[109,0.398],[112.1,0.357],[116.2,0.357],[119.3,0.371],[121.4,0.357],[123.9,0.385],[126.5,0.406],[129.6,0.453],
 [133.7,0.466],[137.8,0.494],[141.9,0.499],[145.1,0.48],[150.2,0.466],[153.3,0.48],[155.3,0.548],[157.4,0.543],[159.4,0.466],[161.5,0.39],
 [164.5,0.39],[166.6,0.466],[168.7,0.526],[172.8,0.521],[174.8,0.534],[177.9,0.507],[182,0.488],[184.1,0.515],[186.2,0.575],[188.2,0.534],
 [190.3,0.526],[193.3,0.562],[196.4,0.589],[199.6,0.657],[201.6,0.644],[203.7,0.521],[206.7,0.507],[209.8,0.494],[212.9,0.48],[215.5,0.466],
 [218,0.434],[221.1,0.434],[223.2,0.507],[226.2,0.521],[229.3,0.521],[232.4,0.417],[234.5,0.417],[237.5,0.494],[240.6,0.494],[243.7,0.412],
 [244.8,0.379],[247.9,0.379],[251,0.357],[254.1,0.335],[257.1,0.357],[261.3,0.357],[265.4,0.371],[269.5,0.434],[272.5,0.412],[274.6,0.352],
 [276.7,0.297],[282.9,0.303],[286,0.303],[290.1,0.316],[294.2,0.357],[297.2,0.357],[301.3,0.363],[305.4,0.379],[309.6,0.406],[312.6,0.406],
 [314.7,0.357],[317.8,0.303],[320.9,0.335],[324,0.357],[329.2,0.371],[331.2,0.344],[334.3,0.248],[338.4,0.18],[341.5,0.145],[345.6,0.166],
 [349.7,0.215],[351.8,0.194],[354.8,0.18],[358.9,0.18],[363,0.194],[367.1,0.221],[369.2,0.262],[373.3,0.262],[379.5,0.254],[381.5,0.221],
 [387.7,0.215],[391.8,0.207],[393.9,0.166],[398,0.161],[402.1,0.194],[405.2,0.248],[407.2,0.297],[409.3,0.281],[411.4,0.194],[414.4,0.172],
 [418.5,0.18],[422.7,0.172],[425.7,0.18],[427.8,0.303],[430.9,0.494],[432.9,0.499],[435,0.371],[439.1,0.371],[443.2,0.398],[446.3,0.472],
 [448.4,0.412],[451.5,0.385],[454.6,0.434],[457.7,0.48],[459.7,0.472],[461.8,0.398],[463.8,0.425],[465.5,0.494],[468,0.616],[472.1,0.644],
 [475.1,0.616],[477.8,0.548],[479.9,0.488],[481.3,0.534],[483.4,0.597],[485.4,0.616],[488.5,0.635],[492.6,0.608],[496.7,0.616],[499.8,0.644],
 [502.9,0.684],[506,0.69],[509.1,0.671],[512.1,0.684],[514.2,0.652],[516.2,0.644],[519.3,0.684],[521.4,0.753],[523.4,0.766],[525.5,0.725],
 [528.6,0.589],[531.6,0.562],[534.7,0.603],[537.8,0.684],[540.9,0.766],[544,0.712],[548.1,0.69],[552.2,0.671],[556.3,0.684],[559.4,0.772],
 [562.4,0.766],[565.5,0.725],[568.6,0.698],[570.7,0.644],[573.8,0.684],[576.8,0.717],[579.9,0.753],[583,0.725],[586.1,0.671],[589.1,0.725],
 [593.2,0.739],[597.4,0.712],[599.4,0.698]
];
const rwe24 = [
 [0,0.03],[1.7,0.071],[3.1,0.085],[4.5,0.221],[6.6,0.352],[9.3,0.379],[12,0.379],[13.4,0.289],[14.8,0.194],[15.7,0.085],
 [17.5,0.085],[18.5,0.33],[19.6,0.466],[21,0.488],[22.2,0.466],[23.7,0.357],[25.7,0.363],[27.8,0.357],[29.8,0.316],[31.9,0.18],
 [33.9,0.025],[39.1,0.025],[45.3,0.03],[55.5,0.016],[59.7,0.008],[67.9,0.03],[72,0.063],[75.1,0.085],[77.2,0.117],[79.2,0.098],
 [82.3,0.052],[85.4,0.044],[88.5,0.035],[90.9,0.044],[93,0.153],[96.3,0.221],[98.8,0.248],[101.8,0.221],[103.9,0.303],[106,0.398],
 [109,0.39],[112.1,0.352],[116.2,0.357],[119.3,0.344],[121.4,0.325],[123.9,0.357],[126.5,0.385],[128.6,0.534],[130.6,0.671],[134.8,0.671],
 [136.8,0.589],[138.9,0.526],[141.9,0.548],[145.1,0.562],[150.2,0.57],[153.3,0.616],[156.4,0.644],[159.4,0.616],[161.5,0.48],[164.1,0.453],
 [166.6,0.534],[168.7,0.69],[171.8,0.679],[173.8,0.657],[176.9,0.616],[178.9,0.575],[184.1,0.589],[186.2,0.671],[188.2,0.616],[191.3,0.616],
 [194.4,0.63],[197.5,0.684],[200.6,0.706],[202.6,0.644],[204.7,0.534],[207.8,0.515],[211.9,0.526],[213.9,0.543],[216,0.466],[218.5,0.385],
 [221.1,0.385],[223.2,0.494],[226.2,0.515],[230.3,0.521],[232.4,0.425],[234.5,0.412],[237.5,0.472],[240.6,0.507],[243.7,0.406],[246.8,0.33],
 [251,0.303],[254.1,0.281],[257.1,0.303],[263.3,0.303],[266.4,0.325],[269.5,0.398],[272.5,0.371],[274.6,0.303],[276.7,0.235],[286,0.235],
 [290.1,0.275],[294.2,0.344],[297.2,0.357],[301.3,0.335],[305.4,0.344],[309.6,0.344],[312.6,0.335],[315.7,0.289],[318.8,0.235],[321.9,0.27],
 [325,0.303],[328.1,0.33],[330.2,0.325],[334.3,0.221],[338.4,0.145],[341.5,0.085],[344.5,0.112],[349.7,0.161],[352.8,0.145],[356.9,0.125],
 [361,0.117],[365.1,0.139],[369.2,0.207],[375.4,0.215],[379.5,0.207],[381.5,0.172],[387.7,0.161],[391.8,0.139],[393.9,0.112],[398,0.117],
 [402.1,0.139],[405.2,0.199],[407.2,0.248],[409.3,0.235],[411.4,0.166],[414.4,0.145],[418.5,0.145],[422.7,0.134],[425.7,0.145],[427.8,0.33],
 [430.9,0.507],[432.9,0.499],[435,0.33],[439.1,0.316],[443.2,0.357],[446.3,0.48],[448.4,0.39],[451.5,0.316],[454.6,0.398],[457.7,0.48],
 [459.7,0.477],[461.8,0.357],[463.8,0.39],[465.5,0.494],[468,0.63],[472.1,0.712],[475.1,0.698],[477.8,0.589],[479.9,0.575],[482.3,0.616],
 [485.4,0.657],[489.5,0.706],[492.6,0.644],[495.7,0.608],[498.8,0.644],[502.9,0.788],[507,0.744],[511.1,0.753],[514.2,0.684],[516.2,0.679],
 [519.3,0.821],[523.4,0.826],[525.5,0.78],[528.6,0.608],[532.7,0.608],[535.8,0.684],[538.8,0.821],[541.9,0.834],[546,0.766],[552.2,0.679],
 [556.3,0.684],[559.4,0.788],[562.4,0.78],[565.5,0.753],[568.6,0.739],[570.7,0.69],[573.8,0.766],[577.9,0.848],[581,0.834],[584,0.807],
 [587.1,0.766],[589.1,0.78],[593.2,0.794],[597.4,0.739],[599.4,0.725]
];

// ---------------- page geometry (pixels) ----------------
const W = 1125, H = 1576;
const plotL = 83.3, plotR = 1055.7;
const panelTop = [28.3, 154, 295, 436.5, 578, 719.5, 861, 1002.5, 1144, 1285.5, 1427];
const panelH   = [109.4, 110, 110, 110, 110, 110, 110, 110, 110, 110, 110];

const FONT = 'Liberation Sans, Arial, Helvetica, sans-serif';
const BLUE = '#0000ff', GREEN = '#008000', BLACK = '#000000';

// panel definitions: left axis + optional right axis
const panels = [
  {series: null, range: [-500, 500], ticks: [-400, 0, 400], title: 'EEG [ μV]'},
  {series: wse3264, range: [0.5, 0.9], ticks: [0.6, 0.8], title: 'WSE<sub>32–64</sub>'},
  {series: wse1632, range: [0.5, 0.9], ticks: [0.6, 0.8], title: 'WSE<sub>16–32</sub>'},
  {series: wse816,  range: [0.5, 0.9], ticks: [0.6, 0.8], title: 'WSE<sub>8–16</sub>'},
  {series: wse48,   range: [0.4, 0.9], ticks: [0.4, 0.6, 0.8], title: 'WSE<sub>4–8</sub>'},
  {series: wse24,   range: [0.4, 0.9], ticks: [0.4, 0.6, 0.8], title: 'WSE<sub>2–4</sub>'},
  {series: we3264, rel: rwe3264, range: [0, 0.6], rrange: [0, 0.6], ticks: [0, 0.2, 0.4, 0.6], band: '32–64'},
  {series: we1632, rel: rwe1632, range: [0, 0.6], rrange: [0, 0.6], ticks: [0, 0.2, 0.4, 0.6], band: '16–32'},
  {series: we816,  rel: rwe816,  range: [0, 0.6], rrange: [0, 0.6], ticks: [0, 0.2, 0.4, 0.6], band: '8–16'},
  {series: we48,   rel: rwe48,   range: [0, 0.847], rrange: [0, 0.8], ticks: [0, 0.2, 0.4, 0.6, 0.8], band: '4–8'},
  {series: we24,   rel: rwe24,   range: [0, 0.9], rrange: [0, 0.9], ticks: [0, 0.2, 0.4, 0.6, 0.8], band: '2–4'}
];

const traces = [];
const layout = {
  width: W, height: H,
  margin: {l: plotL, r: W - plotR, t: 0, b: 0, pad: 0},
  paper_bgcolor: '#fff', plot_bgcolor: '#fff',
  showlegend: false,
  font: {family: FONT, size: 14, color: BLACK},
  annotations: []
};

const innerBounds = stageBounds.slice(1, -1);
const px2paperX = px => (px - plotL) / (plotR - plotL);
const px2paperY = py => 1 - py / H;

panels.forEach((p, i) => {
  const n = i + 1;
  const xa = 'xaxis' + n, ya = 'yaxis' + n;
  const dom = [px2paperY(panelTop[i] + panelH[i]), px2paperY(panelTop[i])];
  const isWE = !!p.rel;
  const leftColor = isWE ? BLUE : BLACK;

  layout[xa] = {
    domain: [0, 1], range: [0, 600], anchor: 'y' + n,
    tickmode: 'array', tickvals: innerBounds, showticklabels: false,
    ticks: 'inside', ticklen: 6, tickwidth: 1, tickcolor: BLACK,
    showline: true, linecolor: BLACK, linewidth: 1, mirror: 'ticks',
    showgrid: true, gridcolor: BLACK, gridwidth: 1, griddash: '2px,9px',
    zeroline: false, fixedrange: true
  };
  layout[ya] = {
    domain: dom, range: p.range, anchor: 'x' + n,
    tickmode: 'array', tickvals: p.ticks,
    ticks: 'inside', ticklen: 9, tickwidth: 1, tickcolor: leftColor,
    tickfont: {family: FONT, size: 14, color: leftColor},
    showline: true, linecolor: leftColor, linewidth: 1, mirror: 'ticks',
    showgrid: false, zeroline: false, fixedrange: true
  };

  const yMid = px2paperY(panelTop[i] + panelH[i] / 2);

  if (i === 0) {
    // EEG envelope polygon: upper edge forward, lower edge backward
    const t = eegEnvelope.map(r => r[0]);
    const hi = eegEnvelope.map(r => r[1]);
    const lo = eegEnvelope.map(r => r[2]);
    traces.push({
      type: 'scatter', mode: 'lines', xaxis: 'x1', yaxis: 'y1',
      x: t.concat(t.slice().reverse()), y: hi.concat(lo.slice().reverse()),
      fill: 'toself', fillcolor: BLACK, line: {color: BLACK, width: 0.7},
      hoverinfo: 'skip'
    });
  } else {
    traces.push({
      type: 'scatter', mode: 'lines', xaxis: 'x' + n, yaxis: 'y' + n,
      x: p.series.map(r => r[0]), y: p.series.map(r => r[1]),
      line: {color: isWE ? BLUE : BLACK, width: 1}, cliponaxis: true,
      hoverinfo: 'skip'
    });
  }

  if (isWE) {
    const rn = 11 + (i - 5);          // right-axis index 12..16
    layout['yaxis' + rn] = {
      overlaying: 'y' + n, side: 'right', anchor: 'x' + n,
      range: p.rrange, tickmode: 'array', tickvals: p.ticks,
      ticks: 'inside', ticklen: 9, tickwidth: 1, tickcolor: GREEN,
      tickfont: {family: FONT, size: 14, color: GREEN},
      showline: true, linecolor: GREEN, linewidth: 1,
      showgrid: false, zeroline: false, fixedrange: true
    };
    traces.push({
      type: 'scatter', mode: 'lines', xaxis: 'x' + n, yaxis: 'y' + rn,
      x: p.rel.map(r => r[0]), y: p.rel.map(r => r[1]),
      line: {color: GREEN, width: 1}, hoverinfo: 'skip'
    });
    layout.annotations.push({
      xref: 'paper', yref: 'paper', x: px2paperX(29), y: yMid,
      text: 'WE<sub>' + p.band + '</sub>', textangle: -90, showarrow: false,
      xanchor: 'center', yanchor: 'middle', font: {family: FONT, size: 18, color: BLUE}
    });
    layout.annotations.push({
      xref: 'paper', yref: 'paper', x: px2paperX(1109), y: yMid,
      text: 'RWE<sub>' + p.band + '</sub>', textangle: -90, showarrow: false,
      xanchor: 'center', yanchor: 'middle', font: {family: FONT, size: 18, color: GREEN}
    });
  } else {
    layout.annotations.push({
      xref: 'paper', yref: 'paper', x: px2paperX(i === 0 ? 20 : 26), y: yMid,
      text: p.title, textangle: -90, showarrow: false,
      xanchor: 'center', yanchor: 'middle', font: {family: FONT, size: 18, color: BLACK}
    });
  }
});

// time labels under the last panel
layout.xaxis12 = {
  overlaying: 'x11', anchor: 'y11', side: 'bottom', range: [0, 600],
  tickmode: 'array', tickvals: timeTickVals, ticktext: timeTickText,
  ticks: '', showline: false, showgrid: false, zeroline: false,
  tickfont: {family: FONT, size: 17, color: BLACK}, fixedrange: true
};
traces.push({
  type: 'scatter', mode: 'markers', xaxis: 'x12', yaxis: 'y11',
  x: timeTickVals, y: timeTickVals.map(() => null),
  marker: {opacity: 0}, hoverinfo: 'skip'
});

// stage names above the EEG panel, centred in each segment
stageLabels.forEach((lab, k) => {
  if (!lab) return;
  layout.annotations.push({
    xref: 'x1', yref: 'paper', x: (stageBounds[k] + stageBounds[k + 1]) / 2,
    y: px2paperY(18), text: lab, showarrow: false,
    xanchor: 'center', yanchor: 'middle', font: {family: FONT, size: 17, color: BLACK}
  });
});

layout.annotations.push({
  xref: 'paper', yref: 'paper', x: 0.5, y: px2paperY(1563),
  text: 'Time [mm:ss]', showarrow: false, xanchor: 'center', yanchor: 'middle',
  font: {family: FONT, size: 18, color: BLACK}
});

Plotly.newPlot('chart', traces, layout, {staticPlot: true, displayModeBar: false});
</script>
</body>
</html>
